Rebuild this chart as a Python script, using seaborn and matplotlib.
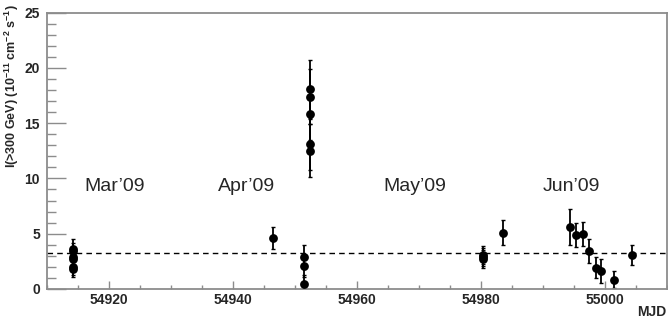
import numpy as np
import pandas as pd
import matplotlib
matplotlib.use('Agg')
import matplotlib.pyplot as plt
import seaborn as sns
from matplotlib.ticker import MultipleLocator, ScalarFormatter

# Data
mjd = [54914.2, 54914.2, 54914.2, 54914.2, 54914.2, 54914.2,
       54946.4,
       54951.5, 54951.5, 54951.5,
       54952.4, 54952.4, 54952.4, 54952.4, 54952.4,
       54980.3, 54980.3, 54980.3,
       54983.5,
       54994.4, 54995.4, 54996.5, 54997.5, 54998.5, 54999.4, 55001.4,
       55004.3]
flux = [3.6, 3.4, 2.9, 2.7, 2.0, 1.8,
        4.6,
        2.9, 2.1, 0.45,
        18.1, 17.4, 15.8, 13.1, 12.5,
        3.1, 2.9, 2.7,
        5.1,
        5.6, 4.9, 5.0, 3.45, 1.9, 1.6, 0.85,
        3.05]
flux_err = [0.9, 0.8, 0.8, 0.7, 0.7, 0.7,
            1.0,
            1.1, 1.0, 0.8,
            2.6, 2.5, 2.3, 2.3, 2.4,
            0.8, 0.8, 0.8,
            1.1,
            1.65, 1.1, 1.1, 1.1, 0.95, 1.07, 0.75,
            0.9]
mean_flux = 3.3
months = ["Mar\u201909", "Apr\u201909", "May\u201909", "Jun\u201909"]
month_pos = [54916.1, 54937.5, 54964.3, 54990.0]

df = pd.DataFrame({'mjd': mjd, 'flux': flux, 'err': flux_err})

sns.set_theme(style='ticks')
plt.rcParams['font.family'] = ['Liberation Sans', 'DejaVu Sans']
plt.rcParams['mathtext.fontset'] = 'custom'
plt.rcParams['mathtext.rm'] = 'Liberation Sans'
plt.rcParams['mathtext.bf'] = 'Liberation Sans:bold'
plt.rcParams['mathtext.default'] = 'bf'

fig = plt.figure(figsize=(6.68, 3.22), dpi=100)
ax = fig.add_axes([0.0704, 0.1025, 0.928, 0.8585])

ax.axhline(mean_flux, color='black', lw=1.0, ls=(0, (4, 3)), zorder=1)
ax.errorbar(df['mjd'], df['flux'], yerr=df['err'], fmt='none', ecolor='black',
            elinewidth=1.3, capsize=1.5, capthick=1.0, zorder=2)
sns.scatterplot(data=df, x='mjd', y='flux', ax=ax, color='black', s=40,
                edgecolor='black', linewidth=0, zorder=3, legend=False)

for m, x in zip(months, month_pos):
    ax.text(x, 9.3, m, fontsize=14, ha='left', va='center')

ax.set_xlim(54910, 55010)
ax.set_ylim(0, 25)
ax.xaxis.set_major_locator(MultipleLocator(20))
ax.xaxis.set_minor_locator(MultipleLocator(5))
ax.yaxis.set_major_locator(MultipleLocator(5))
ax.yaxis.set_minor_locator(MultipleLocator(1))
fmt = ScalarFormatter(useOffset=False)
ax.xaxis.set_major_formatter(fmt)

spine_col = '#8c8c8c'
for s in ax.spines.values():
    s.set_color(spine_col)
    s.set_linewidth(1.3)
    s.set_visible(True)

ax.tick_params(axis='y', which='major', direction='in', length=13.5, width=1.0,
               color=spine_col, labelsize=10, pad=5)
ax.tick_params(axis='y', which='minor', direction='in', length=6.5, width=1.0,
               color=spine_col)
ax.tick_params(axis='x', which='major', direction='in', length=5.8, width=1.0,
               color=spine_col, labelsize=10, pad=3)
ax.tick_params(axis='x', which='minor', direction='in', length=3.0, width=1.0,
               color=spine_col)
for lab in ax.get_xticklabels() + ax.get_yticklabels():
    lab.set_fontweight('bold')

ax.set_xlabel('')
ax.set_ylabel('I(>300 GeV) (10$^{\\mathbf{-11}}$ cm$^{\\mathbf{-2}}$ s$^{\\mathbf{-1}}$)',
              fontsize=9, fontweight='bold', loc='top')
ax.yaxis.set_label_coords(-0.042, 1.03)
fig.text(0.998, 0.03, 'MJD', fontsize=10, fontweight='bold', ha='right', va='center')

fig.savefig('out.png', dpi=100)
